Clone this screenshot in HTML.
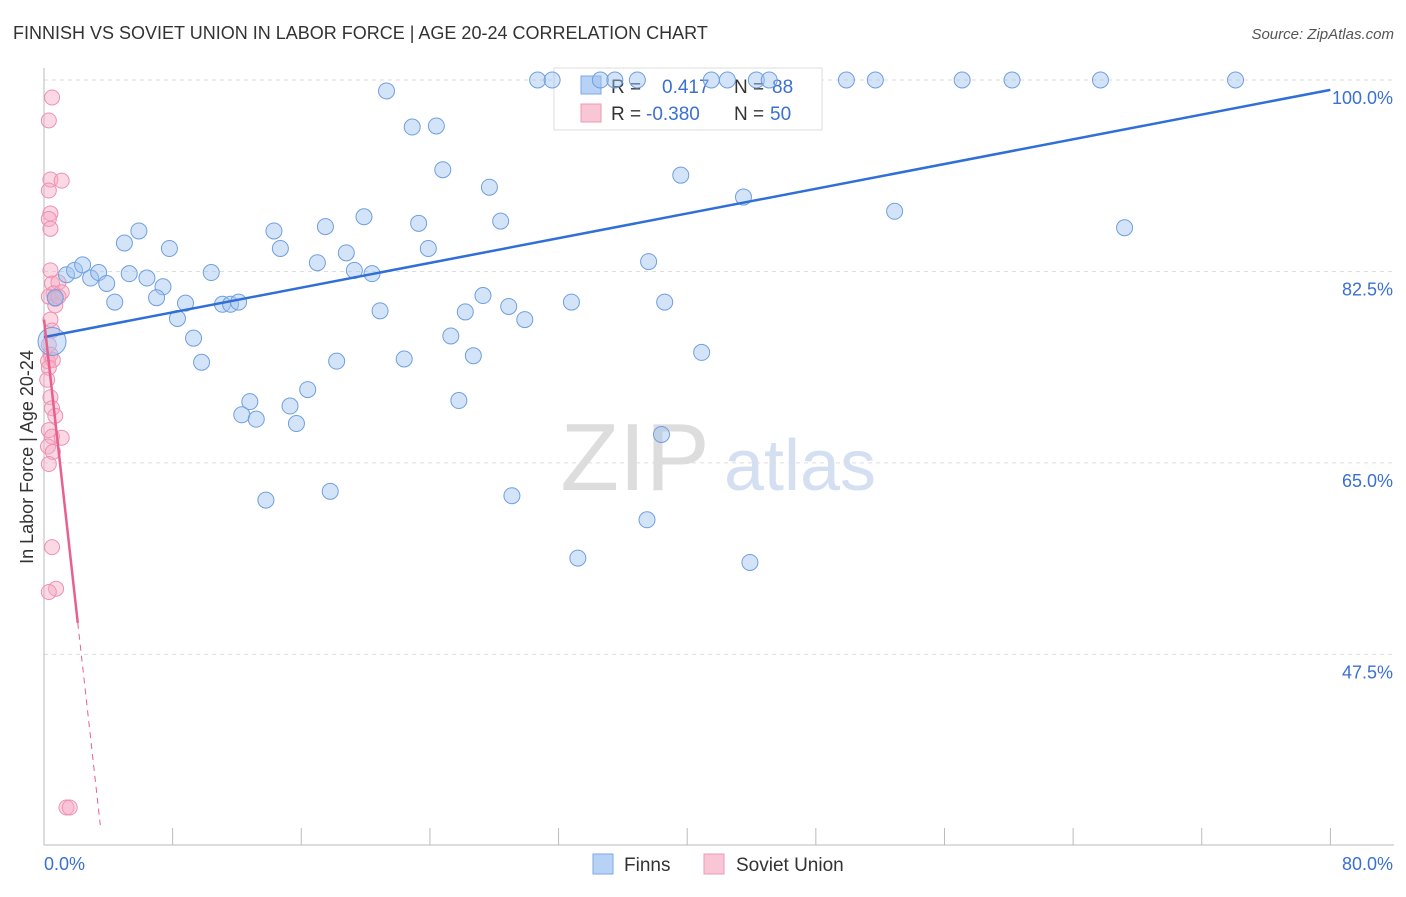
<!DOCTYPE html>
<html><head><meta charset="utf-8">
<style>
body{margin:0;background:#fff;font-family:"Liberation Sans",sans-serif;}
svg text{font-family:"Liberation Sans",sans-serif;}
</style></head>
<body>
<svg id="chart" width="1406" height="892" viewBox="0 0 1406 892" xmlns="http://www.w3.org/2000/svg">
<text x="13" y="39" font-size="18" fill="#333">FINNISH VS SOVIET UNION IN LABOR FORCE | AGE 20-24 CORRELATION CHART</text>
<text x="1394" y="39" font-size="15" fill="#555" text-anchor="end" font-style="italic">Source: ZipAtlas.com</text>
<text transform="translate(33,457) rotate(-90)" font-size="18" fill="#333" text-anchor="middle">In Labor Force | Age 20-24</text>
<g>
<text x="635" y="490" font-size="96" fill="#ddd" font-family="Liberation Serif,serif" text-anchor="middle">ZIP</text>
<text x="800" y="490" font-size="72" fill="#d4e0f2" text-anchor="middle">atlas</text>
</g>
<g id="grid"></g>
<g id="axes"></g>
<g>
<rect x="554" y="68" width="268" height="62" fill="#fff" stroke="#ddd"/>
<rect x="581" y="76" width="20" height="18" fill="#b8d2f5" stroke="#7aa8e8"/>
<text x="611" y="93" font-size="19" fill="#333">R =</text>
<text x="662" y="93" font-size="19" fill="#3a70d0">0.417</text>
<text x="734" y="93" font-size="19" fill="#333">N =</text>
<text x="772" y="93" font-size="19" fill="#3a70d0">88</text>
<rect x="581" y="104" width="20" height="18" fill="#f8c6d4" stroke="#ee9ab4"/>
<text x="611" y="120" font-size="19" fill="#333">R =</text>
<text x="646" y="120" font-size="19" fill="#3a70d0">-0.380</text>
<text x="734" y="120" font-size="19" fill="#333">N =</text>
<text x="770" y="120" font-size="19" fill="#3a70d0">50</text>
</g>
<g id="pinkPts"></g>
<g id="bluePts"></g>
<g id="lines"></g>
<g>
<rect x="593" y="854" width="20" height="20" fill="#b8d2f5" stroke="#7aa8e8"/>
<text x="624" y="871" font-size="19" fill="#333">Finns</text>
<rect x="704" y="854" width="20" height="20" fill="#f8c6d4" stroke="#ee9ab4"/>
<text x="736" y="871" font-size="19" fill="#333">Soviet Union</text>
</g>
</svg>
<script>
const yTicks=[100,82.5,65,47.5];
const yTickLabels=["100.0%","82.5%","65.0%","47.5%"];
const xLabels=["0.0%","80.0%"];
const finnsX=[30.7,31.6,34.6,35.5,36.9,41.5,42.5,44.3,45.1,49.9,51.7,57.1,60.2,65.7,74.1,21.3,22.9,24.4,24.8,27.7,39.6,43.5,52.9,67.2,19.9,23.3,28.4,5.9,5.0,7.8,14.3,14.7,17.5,18.8,23.9,17.0,19.3,20.4,37.6,1.4,1.9,2.4,2.9,3.4,3.9,5.3,6.4,7.4,10.4,4.4,7.0,8.8,11.1,11.6,12.1,8.3,20.9,26.2,27.3,28.9,29.9,32.8,38.6,9.3,9.8,18.2,22.4,25.3,26.7,40.9,16.4,12.8,15.3,12.3,13.2,15.7,25.8,38.4,13.8,17.8,29.1,37.5,33.2,43.9,0.7];
const finnsY=[100,100,100,100,100,100,100,100,100,100,100,100,100,100,100,99.0,95.7,95.8,91.8,90.2,91.3,89.3,88.0,86.5,87.5,86.9,87.1,86.2,85.1,84.6,86.2,84.6,86.6,84.2,84.6,83.3,82.6,82.3,83.4,82.2,82.6,83.1,81.9,82.4,81.4,82.3,81.9,81.1,82.4,79.7,80.1,79.6,79.5,79.5,79.7,78.2,78.9,78.8,80.3,79.3,78.1,79.7,79.7,76.4,74.2,74.3,74.5,76.6,74.8,75.1,71.7,70.6,70.2,69.4,69.0,68.6,70.7,67.6,61.6,62.4,62.0,59.8,56.3,55.9,80.1];
const sovietX=[0.5,0.3,0.4,1.1,0.3,0.4,0.3,0.4,0.4,0.5,0.9,0.6,1.1,0.3,0.7,0.4,0.5,0.3,0.4,0.25,0.55,0.3,0.2,0.4,0.5,0.7,0.3,0.5,1.1,0.25,0.55,0.3,0.5,0.75,0.3,1.4,1.6,0.7,0.9];
const sovietY=[98.4,96.3,90.9,90.8,89.9,87.8,87.3,86.4,82.6,81.4,81.5,80.5,80.6,80.2,79.4,78.1,77.1,75.8,74.9,74.3,74.4,73.7,72.6,71.0,70.0,69.3,68.0,67.4,67.3,66.5,66.0,64.9,57.3,53.5,53.2,33.5,33.5,80.0,80.2];
const finnsTrend=[76.5,99.1];
const sovietTrend=[78.1,-13.2];
const NS="http://www.w3.org/2000/svg";
const X=v=>44+v*16.08, Y=v=>80+(100-v)*10.94;
function mk(tag,attrs,parent){const e=document.createElementNS(NS,tag);for(const k in attrs)e.setAttribute(k,attrs[k]);parent.appendChild(e);return e;}
const grid=document.getElementById('grid'),axes=document.getElementById('axes');
yTicks.forEach((t,i)=>{
 const l=mk('line',{x1:44,x2:1394,y1:Y(t),y2:Y(t),stroke:'#ddd','stroke-dasharray':'4,4'},grid);
 
 
 const tx=mk('text',{x:1393,y:Y(t)+24,'font-size':18,fill:'#3a70d0','text-anchor':'end'},axes);
 tx.textContent=yTickLabels[i];
 
 
});
const ax=mk('line',{x1:44,x2:44,y1:68,y2:845,stroke:'#bbb'},axes);


const bx=mk('line',{x1:44,x2:1394,y1:845,y2:845,stroke:'#bbb'},axes);


for(let i=0;i<=10;i++){const t=mk('line',{x1:X(i*8),x2:X(i*8),y1:828,y2:845,stroke:'#bbb'},axes);
 
 }
const xl0=mk('text',{x:44,y:870,'font-size':18,fill:'#3a70d0'},axes);xl0.textContent=xLabels[0];


const xl1=mk('text',{x:1393,y:870,'font-size':18,fill:'#3a70d0','text-anchor':'end'},axes);xl1.textContent=xLabels[1];


const pp=document.getElementById('pinkPts');
sovietX.forEach((v,i)=>{const c=mk('circle',{cx:X(v),cy:Y(sovietY[i]),r:7.5,fill:'rgba(246,170,195,0.45)',stroke:'#ee90b0','stroke-width':1},pp);
 
 });
const bp=document.getElementById('bluePts');
finnsX.forEach((v,i)=>{const c=mk('circle',{cx:X(v),cy:Y(finnsY[i]),r:8,fill:'rgba(160,195,240,0.45)',stroke:'#6f9fe0','stroke-width':1},bp);
 
 });
const big=mk('circle',{cx:X(0.5),cy:Y(76.1),r:14,fill:'rgba(160,195,240,0.45)',stroke:'#6f9fe0'},bp);


const lg=document.getElementById('lines');
const bl=mk('line',{x1:X(0),y1:Y(finnsTrend[0]),x2:X(80),y2:Y(finnsTrend[1]),stroke:'#2f6fd6','stroke-width':2.5},lg);


const sEnd=2.1, sDash=3.5;
const pl=mk('line',{x1:X(0),y1:Y(sovietTrend[0]),x2:X(sEnd),y2:Y(sovietTrend[0]+sovietTrend[1]*sEnd),stroke:'#e8608c','stroke-width':2.5},lg);


const pd=mk('line',{x1:X(sEnd),y1:Y(sovietTrend[0]+sovietTrend[1]*sEnd),x2:X(sDash),y2:Y(sovietTrend[0]+sovietTrend[1]*sDash),stroke:'#e8608c','stroke-width':1,'stroke-dasharray':'6,5'},lg);


</script>
</body></html>
